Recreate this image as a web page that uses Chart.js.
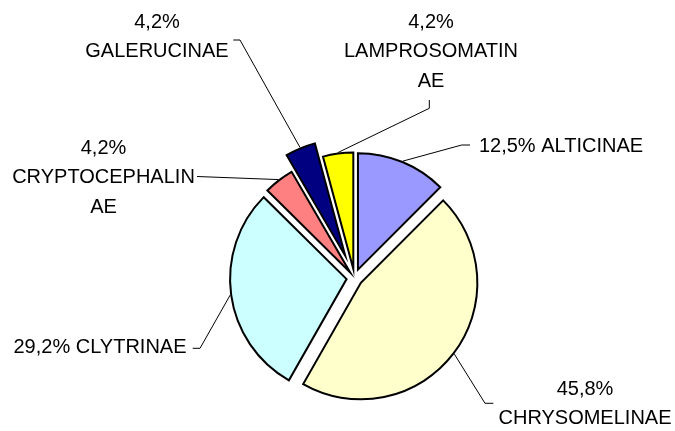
<!DOCTYPE html>
<html>
<head>
<meta charset="utf-8">
<script src="https://cdn.jsdelivr.net/npm/chart.js@4/dist/chart.umd.min.js"></script>
<style>
html,body{margin:0;padding:0;background:#fff;}
#wrap{width:675px;height:431px;position:relative;}
</style>
</head>
<body>
<div id="wrap"><canvas id="c" width="675" height="431"></canvas></div>
<script>
// ---- data ----
const categories = ['ALTICINAE', 'CHRYSOMELINAE', 'CLYTRINAE', 'CRYPTOCEPHALINAE', 'GALERUCINAE', 'LAMPROSOMATINAE'];
const percentages = [12.5, 45.8, 29.2, 4.2, 4.2, 4.2];

// ---- styles ----
const sliceColors = ['#9999FF', '#FFFFCC', '#CCFFFF', '#FF8080', '#000080', '#FFFF00'];
const explode = [9, 8, 8, 7, 24, 9];           // px each slice is pulled out
const FONT = '20px "Liberation Sans", Arial, sans-serif';
const LINE_H = 29.5;
// label placement relative to pie centre (text block centre, leader bend points, wrap width)
const labelLayout = [
  { text: [206.5, -133],  leader: [[107.2, -133], [115.5, -133]],   wrap: 300 },
  { text: [230.5, 124.5], leader: [[130.5, 125.3], [138.8, 125.3]], wrap: 195 },
  { text: [-254.5, 68],   leader: [[-154.5, 70.3], [-161.8, 70.3]], wrap: 300 },
  { text: [-251, -102],   leader: [[-157.5, -101.5]],               wrap: 190 },
  { text: [-197.5, -242.5], leader: [[-114.5, -238], [-121.2, -238]], wrap: 160 },
  { text: [76.5, -228],   leader: [[74.8, -169.7], [74.8, -178]],   wrap: 182 }
];

function fmtPct(v) { return v.toFixed(1).replace('.', ',') + '%'; }

function wrapText(ctx, text, maxW) {
  const words = text.split(' ');
  const lines = [];
  let cur = '';
  for (const w of words) {
    const test = cur ? cur + ' ' + w : w;
    if (ctx.measureText(test).width <= maxW) { cur = test; continue; }
    if (cur) lines.push(cur);
    cur = '';
    let piece = '';
    for (const ch of w) {
      if (ctx.measureText(piece + ch).width <= maxW) piece += ch;
      else { lines.push(piece); piece = ch; }
    }
    cur = piece;
  }
  if (cur) lines.push(cur);
  return lines;
}

const explodePlugin = {
  id: 'explodeArcs',
  beforeDatasetsDraw(chart) {
    const ctx = chart.ctx;
    const meta = chart.getDatasetMeta(0);
    meta.data.forEach((arc, i) => {
      const mid = (arc.startAngle + arc.endAngle) / 2;
      ctx.save();
      ctx.translate(Math.cos(mid) * explode[i], Math.sin(mid) * explode[i]);
      arc.draw(ctx);
      ctx.restore();
    });
    return false;
  },
  afterDraw(chart) {
    const ctx = chart.ctx;
    const meta = chart.getDatasetMeta(0);
    const ca = chart.chartArea;
    const cx = (ca.left + ca.right) / 2, cy = (ca.top + ca.bottom) / 2;
    ctx.save();
    ctx.font = FONT;
    meta.data.forEach((arc, i) => {
      const mid = (arc.startAngle + arc.endAngle) / 2;
      const L = labelLayout[i];
      const r = arc.outerRadius + 1 + explode[i];
      const ax = arc.x + Math.cos(mid) * r;
      const ay = arc.y + Math.sin(mid) * r;
      ctx.beginPath();
      ctx.moveTo(ax, ay);
      L.leader.forEach(([dx, dy]) => ctx.lineTo(cx + dx, cy + dy));
      ctx.strokeStyle = '#000';
      ctx.lineWidth = 1;
      ctx.stroke();

      const lines = wrapText(ctx, fmtPct(percentages[i]) + ' ' + categories[i], L.wrap);
      ctx.fillStyle = '#000';
      ctx.textAlign = 'center';
      ctx.textBaseline = 'alphabetic';
      const bx = cx + L.text[0], by = cy + L.text[1];
      const y0 = by - (lines.length - 1) * LINE_H / 2;
      lines.forEach((ln, k) => {
        ctx.fillText(ln, bx, y0 + k * LINE_H + 7.2);
      });
    });
    ctx.restore();
  }
};

new Chart(document.getElementById('c'), {
  type: 'pie',
  data: {
    labels: categories,
    datasets: [{
      data: percentages,
      backgroundColor: sliceColors,
      borderColor: '#000000',
      borderWidth: 2,
      borderJoinStyle: 'miter'
    }]
  },
  options: {
    responsive: false,
    animation: false,
    events: [],
    radius: 116.5,
    layout: { padding: { top: 150, bottom: 25, left: 150, right: 116 } },
    plugins: { legend: { display: false }, tooltip: { enabled: false } }
  },
  plugins: [explodePlugin]
});
</script>
</body>
</html>
